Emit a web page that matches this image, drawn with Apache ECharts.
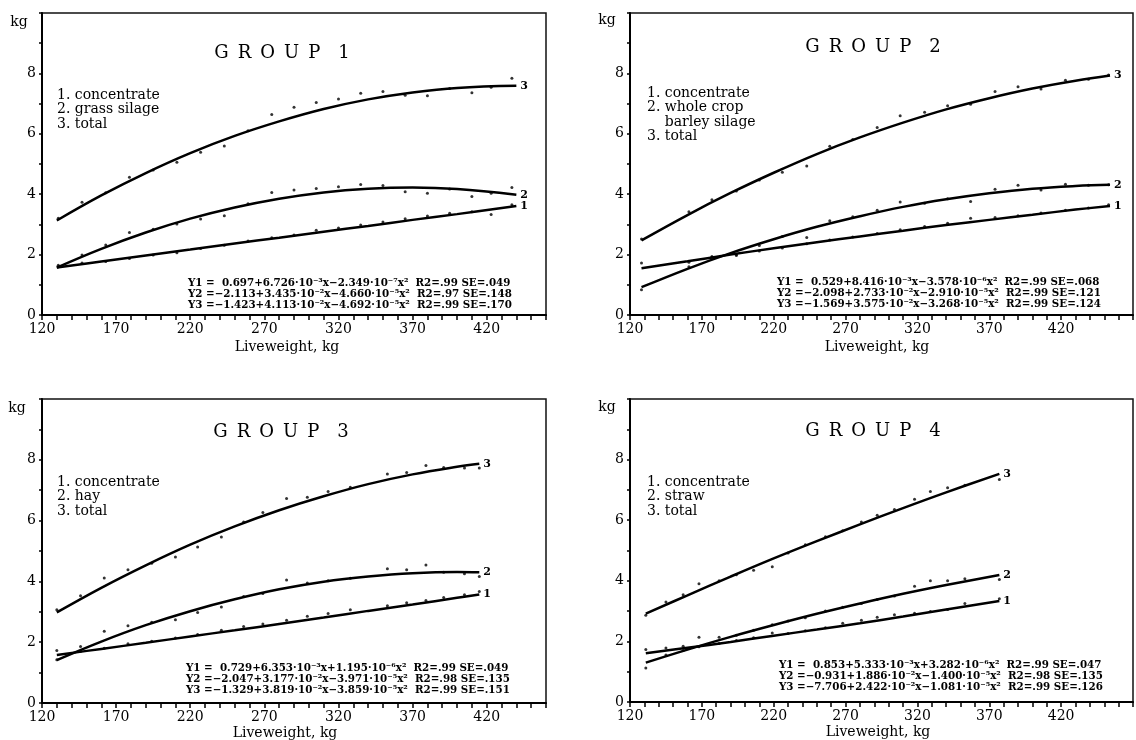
<!DOCTYPE html>
<html>
<head>
<meta charset="utf-8">
<title>Feed intake by liveweight</title>
<script src="https://cdn.jsdelivr.net/npm/echarts@6/dist/echarts.min.js"></script>
<style>
    html, body { margin: 0; padding: 0; background: #fff; }
    #chart { width: 1136px; height: 740px; }
</style>
</head>
<body>
<div id="chart"></div>
<script>
// Group 1 - grass silage
const g1CurveX = [130, 160, 190, 220, 250, 280, 310, 340, 370, 400, 440];
const g1CurveConc = [1.57, 1.77, 1.97, 2.17, 2.37, 2.56, 2.76, 2.95, 3.15, 3.34, 3.61];
const g1CurveForage = [1.57, 2.19, 2.73, 3.19, 3.56, 3.85, 4.06, 4.18, 4.22, 4.17, 3.98];
const g1CurveTotal = [3.13, 3.96, 4.70, 5.36, 5.93, 6.41, 6.82, 7.14, 7.37, 7.52, 7.59];
const g1PointX = [131, 147, 163, 179, 195, 211, 227, 243, 259, 275, 290, 305, 320, 335, 350, 365, 380, 395, 410, 423, 437];
const g1PointConc = [1.60, 1.72, 1.77, 1.87, 1.99, 2.06, 2.20, 2.31, 2.45, 2.56, 2.65, 2.81, 2.88, 2.98, 3.08, 3.19, 3.28, 3.37, 3.42, 3.33, 3.65];
const g1PointForage = [1.65, 1.99, 2.32, 2.73, 2.84, 3.01, 3.18, 3.29, 3.68, 4.06, 4.14, 4.19, 4.25, 4.32, 4.29, 4.08, 4.03, 4.17, 3.92, 4.03, 4.22];
const g1PointTotal = [3.20, 3.73, 4.05, 4.56, 4.80, 5.06, 5.39, 5.60, 6.10, 6.64, 6.88, 7.04, 7.15, 7.34, 7.40, 7.28, 7.26, 7.50, 7.36, 7.54, 7.84];

// Group 2 - whole crop barley silage
const g2CurveX = [128, 160, 190, 220, 250, 280, 310, 340, 370, 400, 430, 454];
const g2CurveConc = [1.55, 1.78, 2.00, 2.21, 2.41, 2.60, 2.79, 2.98, 3.15, 3.32, 3.49, 3.61];
const g2CurveForage = [0.92, 1.53, 2.05, 2.51, 2.92, 3.27, 3.58, 3.83, 4.03, 4.18, 4.27, 4.31];
const g2CurveTotal = [2.47, 3.31, 4.04, 4.71, 5.33, 5.88, 6.37, 6.81, 7.18, 7.50, 7.76, 7.93];
const g2PointX = [128, 161, 177, 194, 210, 226, 243, 259, 275, 292, 308, 325, 341, 357, 374, 390, 406, 423, 439, 453];
const g2PointConc = [1.72, 1.75, 1.94, 1.97, 2.12, 2.22, 2.36, 2.48, 2.58, 2.70, 2.82, 2.93, 3.04, 3.20, 3.23, 3.29, 3.38, 3.47, 3.54, 3.65];
const g2PointForage = [0.84, 1.60, 1.90, 2.00, 2.30, 2.60, 2.57, 3.12, 3.25, 3.47, 3.74, 3.70, 3.85, 3.76, 4.16, 4.30, 4.14, 4.33, 4.30, 4.31];
const g2PointTotal = [2.52, 3.42, 3.82, 4.11, 4.47, 4.73, 4.93, 5.59, 5.81, 6.21, 6.60, 6.71, 6.93, 6.98, 7.40, 7.56, 7.48, 7.77, 7.81, 7.95];

// Group 3 - hay
const g3CurveX = [130, 160, 190, 220, 250, 280, 310, 340, 370, 400, 415];
const g3CurveConc = [1.58, 1.78, 1.98, 2.19, 2.39, 2.60, 2.81, 3.03, 3.24, 3.46, 3.57];
const g3CurveForage = [1.41, 2.02, 2.56, 3.02, 3.41, 3.74, 3.99, 4.16, 4.27, 4.31, 4.30];
const g3CurveTotal = [2.98, 3.79, 4.53, 5.21, 5.81, 6.34, 6.80, 7.20, 7.52, 7.77, 7.87];
const g3PointX = [130, 146, 162, 178, 194, 210, 225, 241, 256, 269, 285, 299, 313, 328, 353, 366, 379, 391, 405, 415];
const g3PointConc = [1.73, 1.70, 1.80, 1.95, 2.03, 2.14, 2.25, 2.39, 2.52, 2.60, 2.72, 2.85, 2.94, 3.07, 3.20, 3.30, 3.37, 3.47, 3.56, 3.67];
const g3PointForage = [1.42, 1.86, 2.36, 2.54, 2.66, 2.74, 2.98, 3.16, 3.50, 3.60, 4.05, 3.95, 4.02, 4.10, 4.42, 4.38, 4.54, 4.30, 4.25, 4.16];
const g3PointTotal = [3.07, 3.53, 4.11, 4.38, 4.60, 4.80, 5.13, 5.46, 5.95, 6.27, 6.73, 6.77, 6.96, 7.10, 7.53, 7.58, 7.81, 7.75, 7.73, 7.73];

// Group 4 - straw
const g4CurveX = [131, 160, 190, 220, 250, 280, 310, 340, 377];
const g4CurveConc = [1.61, 1.79, 1.98, 2.19, 2.39, 2.60, 2.82, 3.05, 3.33];
const g4CurveForage = [1.30, 1.73, 2.15, 2.54, 2.91, 3.25, 3.57, 3.86, 4.19];
const g4CurveTotal = [2.92, 3.52, 4.14, 4.74, 5.31, 5.86, 6.40, 6.92, 7.53];
const g4PointX = [131, 145, 157, 168, 182, 194, 206, 219, 230, 242, 256, 268, 281, 292, 304, 318, 329, 341, 353, 377];
const g4PointConc = [1.73, 1.78, 1.84, 1.82, 1.93, 2.03, 2.12, 2.28, 2.26, 2.35, 2.45, 2.60, 2.70, 2.80, 2.88, 2.93, 2.99, 3.05, 3.25, 3.41];
const g4PointForage = [1.12, 1.55, 1.70, 2.14, 2.14, 2.20, 2.37, 2.55, 2.67, 2.78, 3.00, 3.13, 3.25, 3.38, 3.50, 3.82, 4.00, 4.00, 4.07, 4.04];
const g4PointTotal = [2.86, 3.30, 3.54, 3.90, 4.00, 4.20, 4.35, 4.46, 4.92, 5.19, 5.45, 5.65, 5.94, 6.16, 6.35, 6.69, 6.95, 7.07, 7.15, 7.34];

// Texts (en spaces give the wide letter spacing of the titles)
const titles = [
    'G\u2002R\u2002O\u2002U\u2002P\u2002\u20021',
    'G\u2002R\u2002O\u2002U\u2002P\u2002\u20022',
    'G\u2002R\u2002O\u2002U\u2002P\u2002\u20023',
    'G\u2002R\u2002O\u2002U\u2002P\u2002\u20024'
];
const legends = [
    ['1. concentrate', '2. grass silage', '3. total'],
    ['1. concentrate', '2. whole crop', '    barley silage', '3. total'],
    ['1. concentrate', '2. hay', '3. total'],
    ['1. concentrate', '2. straw', '3. total']
];
const equations = [
    ['Y1 =  0.697+6.726·10⁻³x−2.349·10⁻⁷x²  R2=.99 SE=.049',
     'Y2 =−2.113+3.435·10⁻²x−4.660·10⁻⁵x²  R2=.97 SE=.148',
     'Y3 =−1.423+4.113·10⁻²x−4.692·10⁻⁵x²  R2=.99 SE=.170'],
    ['Y1 =  0.529+8.416·10⁻³x−3.578·10⁻⁶x²  R2=.99 SE=.068',
     'Y2 =−2.098+2.733·10⁻²x−2.910·10⁻⁵x²  R2=.99 SE=.121',
     'Y3 =−1.569+3.575·10⁻²x−3.268·10⁻⁵x²  R2=.99 SE=.124'],
    ['Y1 =  0.729+6.353·10⁻³x+1.195·10⁻⁶x²  R2=.99 SE=.049',
     'Y2 =−2.047+3.177·10⁻²x−3.971·10⁻⁵x²  R2=.98 SE=.135',
     'Y3 =−1.329+3.819·10⁻²x−3.859·10⁻⁵x²  R2=.99 SE=.151'],
    ['Y1 =  0.853+5.333·10⁻³x+3.282·10⁻⁶x²  R2=.99 SE=.047',
     'Y2 =−0.931+1.886·10⁻²x−1.400·10⁻⁵x²  R2=.98 SE=.135',
     'Y3 =−7.706+2.422·10⁻²x−1.081·10⁻⁵x²  R2=.99 SE=.126']
];

const FONT = '"DejaVu Serif", serif';

// Panel layout: grid box, x max, and text anchors
const panels = [
    { left: 42, top: 13, width: 504, height: 302, xMax: 460,
      kg: [19, 22], title: [282, 53], legend: [57, 95], eq: [188, 283], xName: [287, 347],
      curves: [g1CurveX, g1CurveConc, g1CurveForage, g1CurveTotal],
      points: [g1PointX, g1PointConc, g1PointForage, g1PointTotal] },
    { left: 630, top: 13, width: 503, height: 302, xMax: 470,
      kg: [607, 20], title: [873, 47], legend: [647, 93], eq: [777, 282], xName: [877, 347],
      curves: [g2CurveX, g2CurveConc, g2CurveForage, g2CurveTotal],
      points: [g2PointX, g2PointConc, g2PointForage, g2PointTotal] },
    { left: 42, top: 399, width: 504, height: 304, xMax: 460,
      kg: [17, 408], title: [281, 432], legend: [57, 482], eq: [186, 668], xName: [285, 733],
      curves: [g3CurveX, g3CurveConc, g3CurveForage, g3CurveTotal],
      points: [g3PointX, g3PointConc, g3PointForage, g3PointTotal] },
    { left: 630, top: 399, width: 503, height: 303, xMax: 470,
      kg: [607, 407], title: [873, 431], legend: [647, 482], eq: [779, 665], xName: [878, 732],
      curves: [g4CurveX, g4CurveConc, g4CurveForage, g4CurveTotal],
      points: [g4PointX, g4PointConc, g4PointForage, g4PointTotal] }
];

function zip(xs, ys) {
    return xs.map((x, i) => [x, ys[i]]);
}

const option = {
    backgroundColor: '#fff',
    animation: false,
    grid: [],
    xAxis: [],
    yAxis: [],
    series: [],
    graphic: []
};

panels.forEach((p, i) => {
    option.grid.push({
        left: p.left, top: p.top, width: p.width, height: p.height,
        show: true, borderColor: '#111', borderWidth: 1.5
    });

    option.xAxis.push({
        gridIndex: i,
        type: 'value',
        min: 120,
        max: p.xMax,
        interval: 10,
        axisLine: { show: true, lineStyle: { color: '#000', width: 2 } },
        axisTick: { show: true, length: 5, lineStyle: { color: '#000', width: 1.5 } },
        axisLabel: {
            margin: 7,
            color: '#000',
            fontFamily: FONT,
            fontSize: 14,
            formatter: v => ((v - 120) % 50 === 0 && v <= 420) ? String(v) : ''
        },
        splitLine: { show: false }
    });

    option.yAxis.push({
        gridIndex: i,
        type: 'value',
        min: 0,
        max: 10,
        interval: 1,
        axisLine: { show: true, lineStyle: { color: '#000', width: 2 } },
        axisTick: { show: true, length: 3, lineStyle: { color: '#000', width: 1.5 } },
        axisLabel: {
            margin: 6,
            color: '#000',
            fontFamily: FONT,
            fontSize: 14,
            formatter: v => (v % 2 === 0 && v < 10) ? String(v) : ''
        },
        splitLine: { show: false }
    });

    // Fitted curves 1, 2, 3
    const cx = p.curves[0];
    [1, 2, 3].forEach(k => {
        option.series.push({
            type: 'line',
            xAxisIndex: i,
            yAxisIndex: i,
            data: zip(cx, p.curves[k]),
            smooth: 0.4,
            symbol: 'none',
            lineStyle: { color: '#000', width: 2.5 },
            endLabel: {
                show: true,
                formatter: String(k),
                distance: 4,
                color: '#000',
                fontFamily: FONT,
                fontWeight: 'bold',
                fontSize: 11
            },
            z: 3
        });
    });

    // Observed points
    const px = p.points[0];
    [1, 2, 3].forEach(k => {
        option.series.push({
            type: 'scatter',
            xAxisIndex: i,
            yAxisIndex: i,
            data: zip(px, p.points[k]),
            symbol: 'circle',
            symbolSize: 3,
            itemStyle: { color: '#000' },
            z: 4
        });
    });

    // Texts
    const txt = (x, y, text, style) => option.graphic.push({
        type: 'text', x: x, y: y, silent: true,
        style: Object.assign({ text: text, fill: '#000', font: '14px ' + FONT, textVerticalAlign: 'middle' }, style)
    });

    txt(p.kg[0], p.kg[1], 'kg', { textAlign: 'center', font: '14px ' + FONT });
    txt(p.title[0], p.title[1], titles[i], { textAlign: 'center', font: '18px ' + FONT });
    legends[i].forEach((line, j) => {
        txt(p.legend[0], p.legend[1] + j * 14.6, line, { textAlign: 'left', font: '14px ' + FONT });
    });
    equations[i].forEach((line, j) => {
        txt(p.eq[0], p.eq[1] + j * 11.3, line, { textAlign: 'left', font: 'bold 10.3px ' + FONT });
    });
    txt(p.xName[0], p.xName[1], 'Liveweight, kg', { textAlign: 'center', font: '14px ' + FONT });
});

const chart = echarts.init(document.getElementById('chart'));
chart.setOption(option);

window.addEventListener('resize', function() {
    chart.resize();
});
</script>
</body>
</html>
